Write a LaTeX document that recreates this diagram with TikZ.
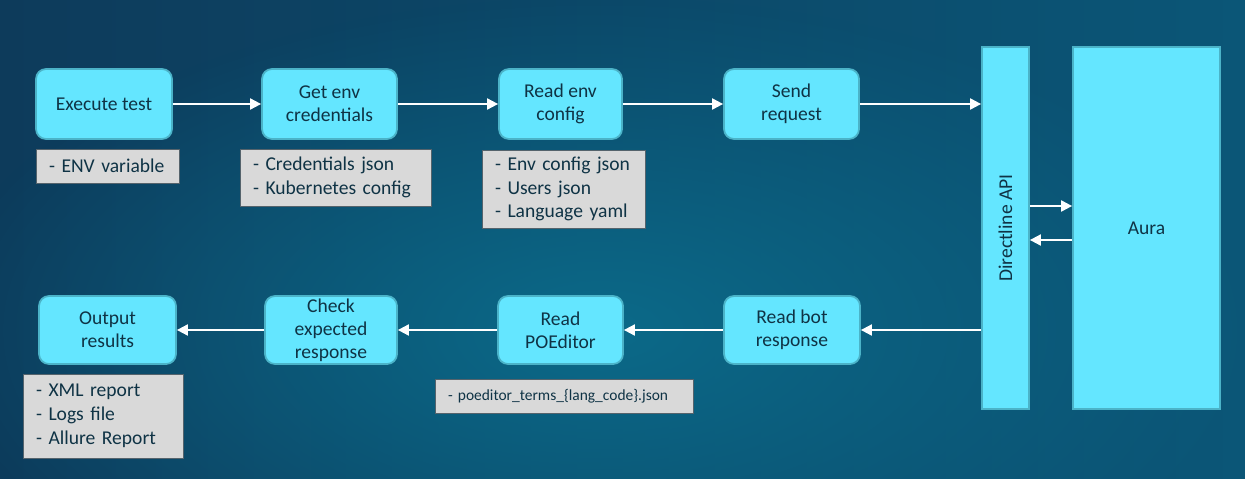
\documentclass[tikz,border=0pt]{standalone}
\usepackage{fontspec}
\setmainfont{Carlito}
\usetikzlibrary{arrows.meta,fadings}
\tikzfading[name=myglow, inner color=transparent!0, outer color=transparent!100]
\newlength\px \setlength\px{0.03cm}
\definecolor{bgdark}{HTML}{0D3B5B}
\definecolor{bgright}{HTML}{0B5677}
\definecolor{bgmid}{HTML}{0B6A89}
\definecolor{boxfill}{HTML}{64E6FF}
\definecolor{boxline}{HTML}{4BB3C8}
\definecolor{txt}{HTML}{0F3345}
\definecolor{notefill}{HTML}{D9D9D9}
\definecolor{noteline}{HTML}{55636C}
\tikzset{
 proc/.style={draw=boxline, fill=boxfill, line width=1.5pt, rounded corners=0.3cm, text=txt, align=center, font=\fontsize{16.7pt}{19.6pt}\selectfont, inner sep=0pt},
 bar/.style={draw=boxline, fill=boxfill, line width=1.5pt, inner sep=0pt},
 note/.style={draw=noteline, fill=notefill, line width=0.6pt, text=txt, align=left, font=\fontsize{16.7pt}{20.4pt}\selectfont, inner ysep=0pt, inner xsep=13\px},
 flow/.style={draw=white, line width=1.6pt, -{Triangle[length=0.33cm,width=0.33cm]}},
}
\begin{document}
\begin{tikzpicture}[x=0.03cm,y=-0.03cm]
\useasboundingbox (0,0) rectangle (1245,478);
\shade[left color=bgdark, right color=bgright] (0,0) rectangle (1245,478);
\fill[bgmid, path fading=myglow] (600,330) ellipse [x radius=20cm, y radius=10cm];

% top row
\node[proc, minimum width=136\px, minimum height=70\px] (exec) at (104,104) {Execute test};
\node[proc, minimum width=135\px, minimum height=70\px] (getenv) at (329.5,104) {Get env\\credentials};
\node[proc, minimum width=123\px, minimum height=70\px] (readenv) at (560.5,104) {Read env\\config};
\node[proc, minimum width=135\px, minimum height=70\px] (send) at (791.5,104) {Send\\request};

% right blocks
\node[bar, minimum width=47\px, minimum height=362\px] (dl) at (1005.5,228) {};
\node[rotate=90, text=txt, font=\fontsize{16.7pt}{19.6pt}\selectfont] (dltext) at (dl) {Directline API};
\node[bar, minimum width=147\px, minimum height=362\px, text=txt, font=\fontsize{16.7pt}{19.6pt}\selectfont] (aura) at (1146.5,228) {Aura};

% bottom row
\node[proc, minimum width=137\px, minimum height=68\px] (output) at (107.5,330) {Output\\results};
\node[proc, minimum width=132\px, minimum height=68\px] (check) at (331,330) {Check\\expected\\response};
\node[proc, minimum width=125\px, minimum height=68\px] (poe) at (560.5,330) {Read\\POEditor};
\node[proc, minimum width=136\px, minimum height=68\px] (readbot) at (792,330) {Read bot\\response};

% notes
\node[note, text width=117\px, minimum height=34\px] (n1) at (107.5,166) {- ENV variable};
\node[note, text width=165\px, minimum height=57\px] (n2) at (335.5,177.5) {- Credentials json\\- Kubernetes config};
\node[note, text width=137\px, minimum height=78\px] (n3) at (563.5,189) {- Env config json\\- Users json\\- Language yaml};
\node[note, text width=134\px, minimum height=84\px] (n4) at (103,416) {- XML report\\- Logs file\\- Allure Report};
\node[note, text width=232\px, minimum height=34\px, font=\fontsize{13.2pt}{16pt}\selectfont] (n5) at (564,396) {- poeditor\_terms\_\{lang\_code\}.json};

% connectors
\draw[flow] (exec.east) -- (getenv.west);
\draw[flow] (getenv.east) -- (readenv.west);
\draw[flow] (readenv.east) -- (send.west);
\draw[flow] (send.east) -- (send.east -| dl.west);
\draw[flow] ([yshift=22\px]dl.east) -- ([yshift=22\px]aura.west);
\draw[flow] ([yshift=-12\px]aura.west) -- ([yshift=-12\px]dl.east);
\draw[flow] (readbot.east -| dl.west) -- (readbot.east);
\draw[flow] (readbot.west) -- (poe.east);
\draw[flow] (poe.west) -- (check.east);
\draw[flow] (check.west) -- (output.east);
\end{tikzpicture}
\end{document}
